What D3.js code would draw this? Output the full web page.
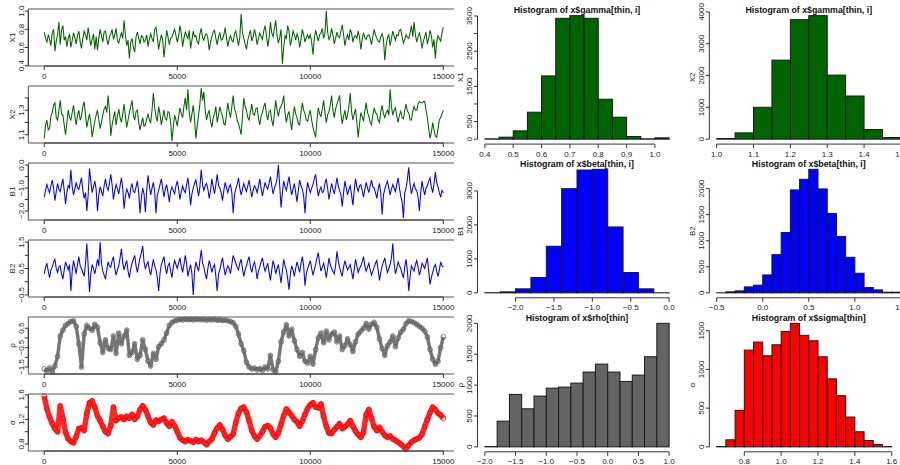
<!DOCTYPE html>
<html>
<head>
<meta charset="utf-8">
<script src="https://cdn.jsdelivr.net/npm/d3@7"></script>
<style>
body { margin: 0; background: #fff; }
text { font-family: "Liberation Sans", Arial, sans-serif; }
</style>
</head>
<body>
<div id="chart"></div>
<script>
// line traces, read every 50 iterations (0 .. 15000)
const x1Trace = [
 0.77,0.70,0.66,0.74,0.69,0.62,0.76,0.80,0.56,0.67,0.74,0.88,0.63,0.79,0.84,0.68,0.72,0.61,0.70,0.75,
 0.60,0.68,0.76,0.71,0.64,0.73,0.78,0.66,0.59,0.70,0.78,0.74,0.68,0.82,0.72,0.62,0.69,0.75,0.58,0.72,
 0.57,0.70,0.80,0.73,0.66,0.77,0.78,0.69,0.63,0.72,0.75,0.80,0.69,0.74,0.81,0.67,0.65,0.71,0.76,0.70,
 0.90,0.74,0.62,0.68,0.48,0.66,0.70,0.60,0.55,0.72,0.77,0.70,0.64,0.73,0.72,0.66,0.68,0.74,0.61,0.69,
 0.75,0.70,0.66,0.80,0.82,0.71,0.58,0.67,0.74,0.69,0.49,0.63,0.79,0.72,0.63,0.70,0.71,0.76,0.80,0.73,
 0.66,0.72,0.84,0.76,0.61,0.70,0.77,0.73,0.70,0.79,0.59,0.68,0.78,0.72,0.73,0.66,0.64,0.75,0.81,0.71,
 0.68,0.74,0.75,0.70,0.57,0.66,0.72,0.77,0.79,0.70,0.63,0.72,0.76,0.68,0.69,0.74,0.82,0.71,0.61,0.69,
 0.73,0.68,0.66,0.75,0.78,0.70,0.62,0.71,0.97,0.76,0.70,0.64,0.58,0.68,0.74,0.79,0.67,0.72,0.80,0.74,
 0.63,0.70,0.76,0.72,0.69,0.78,0.84,0.74,0.61,0.70,0.88,0.76,0.72,0.81,0.90,0.73,0.65,0.71,0.80,0.42,
 0.60,0.73,0.70,0.84,0.78,0.62,0.69,0.78,0.74,0.68,0.75,0.71,0.60,0.69,0.80,0.74,0.66,0.71,0.74,0.70,
 0.74,0.66,0.52,0.70,0.79,0.73,0.67,0.74,0.76,0.81,0.70,0.75,1.00,0.77,0.69,0.72,0.81,0.74,0.64,0.70,
 0.77,0.72,0.71,0.78,0.85,0.74,0.62,0.70,0.74,0.68,0.80,0.76,0.66,0.72,0.73,0.70,0.78,0.71,0.58,0.69,
 0.76,0.71,0.69,0.73,0.74,0.70,0.63,0.72,0.80,0.74,0.70,0.67,0.66,0.72,0.75,0.69,0.46,0.62,0.71,0.74,
 0.62,0.70,0.78,0.73,0.68,0.74,0.73,0.79,0.80,0.72,0.65,0.69,0.74,0.71,0.70,0.76,0.84,0.72,0.88,0.74,
 0.66,0.72,0.76,0.70,0.59,0.67,0.72,0.77,0.64,0.70,0.79,0.73,0.60,0.69,0.48,0.66,0.73,0.70,0.67,0.76,
 0.82];
const x2Trace = [
 1.07,1.18,1.22,1.14,1.15,1.25,1.28,1.34,1.36,1.24,1.22,1.30,1.38,1.27,1.26,1.18,1.10,1.20,1.30,1.24,
 1.22,1.28,1.34,1.25,1.18,1.26,1.30,1.22,1.25,1.33,1.37,1.26,1.16,1.22,1.27,1.20,1.08,1.15,1.21,1.26,
 1.30,1.22,1.15,1.20,1.26,1.31,1.33,1.28,1.42,1.30,1.09,1.18,1.24,1.29,1.18,1.25,1.31,1.24,1.20,1.27,
 1.35,1.25,1.16,1.22,1.28,1.33,1.38,1.26,1.22,1.29,1.30,1.20,1.14,1.19,1.24,1.17,1.18,1.23,1.27,1.22,
 1.20,1.30,1.44,1.32,1.25,1.21,1.33,1.27,1.18,1.24,1.30,1.23,1.22,1.29,1.28,1.20,1.05,1.16,1.26,1.22,
 1.17,1.25,1.32,1.27,1.24,1.33,1.40,1.30,1.47,1.28,1.20,1.27,1.34,1.22,1.07,1.18,1.26,1.35,1.48,1.38,
 1.45,1.30,1.22,1.27,1.30,1.21,1.16,1.24,1.27,1.33,1.20,1.26,1.33,1.28,1.25,1.19,1.18,1.27,1.36,1.29,
 1.24,1.33,1.42,1.31,1.28,1.22,1.19,1.15,1.10,1.25,1.40,1.33,1.30,1.24,1.22,1.29,1.35,1.27,1.26,1.31,
 1.32,1.24,1.18,1.25,1.28,1.33,1.36,1.27,1.22,1.29,1.30,1.22,1.17,1.27,1.38,1.30,1.25,1.31,1.33,1.36,
 1.42,1.28,1.20,1.26,1.29,1.21,1.14,1.25,1.33,1.27,1.24,1.19,1.18,1.28,1.36,1.30,1.27,1.22,1.21,1.26,
 1.30,1.22,1.16,1.12,1.08,1.22,1.32,1.27,1.25,1.31,1.38,1.28,1.20,1.26,1.29,1.34,1.42,1.30,1.24,1.31,
 1.35,1.38,1.42,1.27,1.19,1.25,1.30,1.22,1.26,1.33,1.44,1.29,1.22,1.27,1.31,1.20,1.08,1.19,1.28,1.25,
 1.21,1.29,1.36,1.28,1.25,1.20,1.18,1.26,1.32,1.28,1.27,1.22,1.20,1.29,1.34,1.27,1.24,1.28,1.30,1.26,
 1.47,1.33,1.26,1.30,1.32,1.25,1.20,1.26,1.29,1.24,1.23,1.30,1.35,1.29,1.28,1.22,1.22,1.29,1.33,1.30,
 1.30,1.35,1.37,1.36,1.36,1.37,1.37,1.30,1.24,1.15,1.07,1.12,1.20,1.14,1.09,1.08,1.15,1.22,1.24,1.27,
 1.30];
const b1Trace = [
 -1.40,-1.10,-0.85,-1.05,-1.20,-0.90,-0.65,-1.00,-1.55,-1.15,-0.80,-1.05,-1.15,-0.85,-0.60,-1.10,-1.70,-1.20,-0.90,-1.00,
 -0.20,-0.95,-1.30,-1.05,-0.75,-1.00,-1.05,-0.80,-0.55,-1.10,-1.45,-1.20,-2.00,-1.30,-0.15,-0.70,-1.20,-0.95,-0.70,-1.05,
 -2.00,-1.30,-0.95,-1.15,-1.35,-0.90,-0.60,-0.95,-1.10,-0.80,-0.40,-0.85,-1.50,-1.10,-0.85,-1.05,-1.25,-0.90,-0.55,-1.00,
 -1.90,-1.35,-1.05,-1.20,-1.45,-1.00,-0.80,-1.15,-1.20,-0.95,-0.70,-1.20,-2.10,-1.40,-1.00,-1.25,-2.05,-1.10,-0.45,-0.90,
 -1.30,-1.00,-0.75,-1.15,-2.10,-1.30,-1.10,-0.85,-0.60,-1.00,-1.40,-1.05,-0.85,-1.20,-1.60,-1.15,-0.95,-1.10,-1.25,-0.90,
 -0.70,-1.05,-1.50,-1.15,-0.90,-1.10,-1.20,-0.85,-0.55,-1.05,-1.75,-1.25,-1.00,-0.80,-0.65,-1.00,-1.35,-0.95,-0.20,-0.85,
 -1.10,-0.90,-0.80,-1.05,-1.45,-1.10,-0.60,-0.95,-1.25,-0.85,-0.40,-0.90,-1.00,-1.20,-1.55,-1.10,-0.75,-1.00,-1.20,-0.95,
 -0.85,-1.20,-2.10,-1.30,-1.05,-0.85,-0.55,-1.00,-1.30,-1.05,-0.80,-1.00,-1.15,-0.90,-0.65,-1.05,-1.40,-1.10,-0.90,-1.00,
 -1.20,-0.95,-0.60,-1.00,-1.35,-1.05,-0.75,-0.95,-1.05,-0.80,-0.50,-0.90,-1.25,-1.00,-0.85,-0.60,0.00,-0.90,-1.85,-1.20,
 -0.70,-0.95,-1.10,-0.80,-0.50,-0.95,-1.30,-1.05,-0.80,-1.20,-1.60,-1.10,-0.65,-0.90,-1.05,-1.35,-2.10,-1.20,-0.75,-1.00,
 -1.20,-1.00,-0.85,-0.60,-0.40,-0.95,-1.35,-1.10,-0.95,-1.20,-1.15,-0.80,-0.60,-1.00,-1.50,-1.15,-0.80,-1.05,-1.25,-0.95,
 -0.55,-0.90,-1.10,-1.30,-1.80,-1.20,-0.70,-1.00,-1.30,-1.05,-0.90,-1.30,-1.75,-1.10,-0.60,-0.95,-1.15,-0.90,-0.85,-1.10,
 -1.40,-1.05,-0.75,-1.00,-1.20,-0.90,-0.65,-0.95,-1.00,-1.20,-1.45,-1.05,-0.80,-1.25,-2.15,-1.30,-1.05,-0.85,-0.70,-1.00,
 -1.30,-1.05,-0.85,-1.00,-1.15,-0.85,-0.55,-1.00,-1.35,-1.60,-2.30,-1.20,-1.00,-0.60,-0.10,-0.85,-1.25,-1.00,-0.80,-1.05,
 -1.10,-1.40,-2.00,-1.20,-0.70,-1.05,-1.30,-1.00,-0.90,-0.70,-0.55,-0.95,-1.20,-0.80,-0.30,-0.75,-0.95,-1.20,-1.40,-1.10,
 -1.20];
const b2Trace = [
 0.30,0.55,0.70,0.40,0.15,0.45,0.55,0.75,0.85,0.50,0.35,0.55,0.60,0.30,0.10,0.45,0.75,0.60,0.45,0.65,
 -0.35,0.40,0.80,0.55,0.30,0.65,0.95,0.60,0.50,0.35,0.20,0.70,1.45,0.60,-0.40,0.30,0.65,0.50,0.30,0.55,
 0.85,0.60,1.50,0.70,0.40,0.25,0.10,0.45,0.75,0.60,0.55,0.80,0.95,0.50,0.25,0.45,0.60,0.90,1.25,0.70,
 0.45,0.65,0.80,0.40,0.15,0.50,0.70,0.85,1.00,0.60,0.35,0.65,0.90,1.10,1.35,0.75,0.50,0.65,0.75,0.45,
 0.25,0.55,0.85,0.60,0.45,0.15,-0.35,0.30,0.65,0.80,0.95,0.55,0.30,0.60,0.70,0.40,0.15,0.55,0.80,0.65,
 0.50,0.70,0.90,0.60,0.35,0.65,1.00,0.70,0.20,0.45,0.65,0.30,-0.50,0.40,0.75,0.55,0.40,0.80,1.20,0.70,
 0.55,0.30,0.10,0.50,0.80,0.60,0.35,0.55,0.65,0.20,-0.35,0.30,0.45,0.70,0.90,0.55,0.25,0.45,0.60,0.50,
 0.30,0.65,1.00,0.85,0.70,0.55,0.45,0.70,0.85,0.50,0.20,0.45,0.60,0.80,0.95,0.55,0.35,0.60,0.75,0.50,
 0.10,0.40,0.55,0.75,0.90,0.60,0.40,0.55,0.70,0.35,0.05,0.45,0.80,0.60,0.30,0.50,0.65,0.30,-0.05,0.40,
 0.85,0.60,0.45,0.10,-0.30,0.30,0.60,0.45,0.20,0.50,0.75,0.55,0.35,0.70,0.95,0.60,-0.15,0.30,0.50,0.65,
 0.80,0.50,0.25,0.45,0.65,0.90,1.10,0.70,0.40,0.55,0.70,0.45,0.15,0.50,0.90,0.65,0.50,0.40,0.30,0.60,
 1.15,0.80,0.55,0.35,0.20,0.55,0.80,0.60,0.45,0.55,0.65,0.40,0.10,0.45,0.85,0.60,0.35,0.50,0.60,0.75,
 0.95,0.60,0.40,0.55,0.70,0.45,0.25,0.40,0.55,0.70,0.80,0.45,0.05,0.35,0.60,0.75,0.90,0.60,0.35,0.50,
 0.65,0.90,1.45,0.70,0.30,0.50,0.75,0.60,0.50,0.30,0.15,0.55,0.85,0.40,-0.35,0.20,0.60,0.50,0.40,0.65,
 0.80,0.55,0.25,0.45,0.70,0.60,0.50,0.70,0.90,0.40,-0.10,0.15,0.35,0.55,0.65,0.40,0.20,0.45,0.75,0.60,
 0.55];
// point traces, read every 100 iterations (0 .. 15000)
const rhoTrace = [-1.60,-1.70,-1.55,-1.75,-1.45,-0.95,0.10,0.40,0.65,0.75,
 0.85,0.88,0.60,-0.30,-1.50,0.20,0.65,0.50,0.40,0.70,
 0.55,-0.25,-0.75,-0.10,-0.55,-0.60,0.10,-0.80,0.25,-0.30,
 0.10,0.40,-0.90,-0.75,-0.30,-1.10,-0.90,-0.10,-0.60,-1.20,
 -1.45,-0.80,-1.10,-0.45,-0.30,-0.10,0.25,0.65,0.80,0.88,
 0.92,0.95,0.93,0.97,0.94,0.96,0.93,0.97,0.95,0.94,
 0.96,0.92,0.95,0.93,0.96,0.91,0.94,0.90,0.92,0.88,
 0.85,0.78,0.60,0.20,-0.30,-0.65,-1.25,-1.50,-1.60,-1.55,
 -1.65,-1.58,-1.68,-1.50,-1.60,-0.90,-1.65,-1.75,-1.20,-0.20,
 0.30,0.68,0.10,0.45,-0.15,-0.60,-0.95,-0.75,-1.20,-1.30,
 -0.95,-1.35,-0.60,0.00,0.25,-0.25,0.35,-0.10,0.20,0.30,
 -0.20,0.10,-0.60,-0.40,-0.05,-0.35,-0.70,-0.20,0.20,0.35,
 0.50,0.75,0.45,0.70,0.80,0.55,-0.05,-0.55,-0.90,-0.40,
 -0.20,0.10,-0.45,0.00,0.30,0.45,0.75,0.88,0.85,0.78,
 0.70,0.60,0.50,0.35,0.05,-0.60,-1.10,-1.35,-1.20,-0.50,
 0.05];
const sigmaTrace = [1.58,1.37,1.24,1.13,1.05,1.00,1.42,1.22,0.99,0.88,
 0.84,0.82,0.92,1.05,1.06,1.02,1.30,1.47,1.50,1.40,
 1.26,1.18,1.09,1.00,0.97,1.10,1.40,1.18,1.22,1.24,
 1.20,1.25,1.22,1.28,1.20,1.25,1.36,1.42,1.36,1.25,
 1.15,1.11,1.19,1.17,1.20,1.22,1.14,1.09,1.16,1.10,
 1.00,0.90,0.86,0.84,0.87,0.85,0.83,0.87,0.84,0.86,
 0.83,0.79,0.84,0.88,0.98,1.06,1.11,1.04,0.94,0.88,
 0.92,0.96,1.15,1.30,1.38,1.40,1.32,1.18,1.02,0.93,
 0.88,0.93,1.00,1.08,1.10,1.06,0.96,0.91,0.98,1.12,
 1.26,1.37,1.32,1.26,1.20,1.16,1.09,1.17,1.28,1.38,
 1.44,1.47,1.40,1.39,1.45,1.25,1.09,0.98,0.97,1.03,
 1.08,1.13,1.05,1.08,1.12,1.18,1.09,1.01,0.95,0.91,
 0.99,1.28,1.36,1.22,1.08,1.02,1.07,1.00,0.94,0.91,
 0.93,0.88,0.86,0.83,0.80,0.76,0.72,0.78,0.83,0.86,
 0.88,0.90,0.96,1.08,1.20,1.31,1.40,1.36,1.30,1.27,
 1.22];

// axis ticks, and the tick labels R actually printed
const iterTicks = [0, 5000, 10000, 15000];
const x1TraceTicks = [0.4, 0.6, 0.8, 1.0],        x1TraceLabels = [0.4, 0.6, 0.8, 1.0];
const x2TraceTicks = [1.1, 1.2, 1.3, 1.4],        x2TraceLabels = [1.1, 1.3];
const b1TraceTicks = [-2.0, -1.5, -1.0, -0.5, 0.0], b1TraceLabels = [-2.0, -1.0, 0.0];
const b2TraceTicks = [-0.5, 0.0, 0.5, 1.0, 1.5],  b2TraceLabels = [-0.5, 0.5, 1.5];
const rhoTraceTicks = [-1.5, -1.0, -0.5, 0.0, 0.5], rhoTraceLabels = [-1.5, -0.5, 0.5];
const sigmaTraceTicks = [0.8, 1.0, 1.2, 1.4, 1.6], sigmaTraceLabels = [0.8, 1.2, 1.6];

// histogram counts per bin (first break and bin width given in the table below)
const x1Counts = [10, 57, 236, 766, 1797, 3434, 3510, 3434, 1135, 624, 76, 10, 38];
const x2Counts = [20, 198, 1002, 2485, 3758, 3884, 2015, 1357, 303, 52];
const b1Counts = [5, 29, 118, 451, 1372, 3067, 3616, 3636, 1940, 598, 118, 2];
const b2Counts = [1, 19, 38, 115, 147, 344, 733, 1159, 1975, 2179, 2370, 1994, 1522, 1083, 682, 376, 102, 57, 13, 13];
const rhoCounts = [5, 416, 849, 616, 822, 951, 968, 1032, 1211, 1340, 1211, 1059, 1162, 1459, 2000];
const sigmaCounts = [4, 91, 471, 1249, 1353, 1176, 1318, 1491, 1595, 1440, 1370, 1163, 878, 661, 385, 195, 82, 30, 4, 0];

const x1HistTicks = [0.4, 0.5, 0.6, 0.7, 0.8, 0.9, 1.0];
const x2HistTicks = [1.0, 1.1, 1.2, 1.3, 1.4, 1.5];
const b1HistTicks = [-2.0, -1.5, -1.0, -0.5, 0.0];
const b2HistTicks = [-0.5, 0.0, 0.5, 1.0, 1.5];
const rhoHistTicks = [-2.0, -1.5, -1.0, -0.5, 0.0, 0.5, 1.0];
const sigmaHistTicks = [0.8, 1.0, 1.2, 1.4, 1.6];
const x1CountTicks = [0, 500, 1000, 1500, 2000, 2500, 3000, 3500], x1CountLabels = [0, 500, 1500, 2500, 3500];
const x2CountTicks = [0, 1000, 2000, 3000, 4000],    x2CountLabels = [0, 1000, 2000, 3000, 4000];
const b1CountTicks = [0, 1000, 2000, 3000],          b1CountLabels = [0, 1000, 2000, 3000];
const b2CountTicks = [0, 500, 1000, 1500, 2000],     b2CountLabels = [0, 500, 1000, 1500, 2000];
const rhoCountTicks = [0, 500, 1000, 1500, 2000],    rhoCountLabels = [0, 500, 1000, 1500, 2000];
const sigmaCountTicks = [0, 500, 1000, 1500],        sigmaCountLabels = [0, 500, 1000, 1500];

const width = 900, height = 465;
const fmt1 = d3.format(".1f");

const svg = d3.select("#chart").append("svg")
    .attr("width", width)
    .attr("height", height);
svg.append("rect").attr("width", width).attr("height", height).attr("fill", "#fff");

function yAxisR(g, y, ticks, labels, axisX, fmt, labelGap) {
    g.append("line")
        .attr("x1", axisX).attr("x2", axisX)
        .attr("y1", y(ticks[0])).attr("y2", y(ticks[ticks.length - 1]))
        .attr("stroke", "#333");
    g.selectAll(".yt").data(ticks).enter().append("line")
        .attr("x1", axisX).attr("x2", axisX - 3.5)
        .attr("y1", d => y(d)).attr("y2", d => y(d))
        .attr("stroke", "#333");
    g.selectAll(".yl").data(labels).enter().append("text")
        .attr("transform", d => `translate(${axisX - labelGap},${y(d)}) rotate(-90)`)
        .attr("text-anchor", "middle")
        .attr("font-size", 8)
        .attr("fill", "#222")
        .text(fmt);
}

function xAxisR(g, x, ticks, axisY, fmt) {
    g.append("line")
        .attr("x1", x(ticks[0])).attr("x2", x(ticks[ticks.length - 1]))
        .attr("y1", axisY).attr("y2", axisY)
        .attr("stroke", "#333");
    g.selectAll(".xt").data(ticks).enter().append("line")
        .attr("x1", d => x(d)).attr("x2", d => x(d))
        .attr("y1", axisY).attr("y2", axisY + 4)
        .attr("stroke", "#333");
    g.selectAll(".xl").data(ticks).enter().append("text")
        .attr("x", d => x(d))
        .attr("y", axisY + 12.5)
        .attr("text-anchor", "middle")
        .attr("font-size", 8)
        .attr("fill", "#222")
        .text(fmt);
}

// ---- trace plots (left column)
const traces = [
    { label: "X1", values: x1Trace, step: 50, ticks: x1TraceTicks, labels: x1TraceLabels, color: "#006400", kind: "line" },
    { label: "X2", values: x2Trace, step: 50, ticks: x2TraceTicks, labels: x2TraceLabels, color: "#006400", kind: "line" },
    { label: "B1", values: b1Trace, step: 50, ticks: b1TraceTicks, labels: b1TraceLabels, color: "#0000ff", kind: "line" },
    { label: "B2", values: b2Trace, step: 50, ticks: b2TraceTicks, labels: b2TraceLabels, color: "#0000ff", kind: "line" },
    { label: "\u03c1", values: rhoTrace, step: 100, ticks: rhoTraceTicks, labels: rhoTraceLabels, color: "#5f5f5f", kind: "points", band: 3.5 },
    { label: "\u03c3", values: sigmaTrace, step: 100, ticks: sigmaTraceTicks, labels: sigmaTraceLabels, color: "#ff0000", kind: "points", band: 5.5 }
];

const traceLeft = 28.3, traceRight = 459.3, traceCut = 454;
traces.forEach(function(p, i) {
    const top = 9 + i * 77, bottom = top + 57;
    const g = svg.append("g");
    const iters = p.values.map((v, k) => k * p.step);
    const ext = d3.extent(iters), padX = (ext[1] - ext[0]) * 0.04;
    const x = d3.scaleLinear().domain([ext[0] - padX, ext[1] + padX]).range([traceLeft, traceRight]);
    const vext = d3.extent(p.values), padY = (vext[1] - vext[0]) * 0.04;
    const y = d3.scaleLinear().domain([vext[0] - padY, vext[1] + padY]).range([bottom, top]);

    const pts = p.values.map((v, k) => [iters[k], v]);
    const line = d3.line().x(d => x(d[0])).y(d => y(d[1]));

    if (p.kind === "line") {
        g.append("path").datum(pts)
            .attr("d", line)
            .attr("fill", "none")
            .attr("stroke", p.color)
            .attr("stroke-width", 1.05);
    } else {
        g.append("path").datum(pts)
            .attr("d", line)
            .attr("fill", "none")
            .attr("stroke", p.color)
            .attr("stroke-width", p.band)
            .attr("stroke-linejoin", "round")
            .attr("opacity", 0.85);
        g.selectAll("circle").data(pts).enter().append("circle")
            .attr("cx", d => x(d[0]))
            .attr("cy", d => y(d[1]))
            .attr("r", 2.4)
            .attr("fill", "none")
            .attr("stroke", p.color)
            .attr("stroke-width", 0.8);
    }

    // box (its right side is hidden under the next column)
    g.append("path")
        .attr("d", `M${traceCut},${top}H${traceLeft}V${bottom}H${traceCut}`)
        .attr("fill", "none")
        .attr("stroke", "#555");

    xAxisR(g, x, iterTicks, bottom, d => d);
    yAxisR(g, y, p.ticks, p.labels, traceLeft, fmt1, 4.5);

    g.append("text")
        .attr("transform", `translate(${traceLeft - 13.5},${(top + bottom) / 2}) rotate(-90)`)
        .attr("text-anchor", "middle")
        .attr("font-size", 8)
        .attr("fill", "#222")
        .text(p.label);
});

// ---- histograms (two right columns)
const hists = [
    { title: "Histogram of x$gamma[thin, i]", label: "X1", start: 0.40, bin: 0.05, counts: x1Counts, xTicks: x1HistTicks, yTicks: x1CountTicks, yLabels: x1CountLabels, fill: "#006400", col: 0, row: 0 },
    { title: "Histogram of x$gamma[thin, i]", label: "X2", start: 1.00, bin: 0.05, counts: x2Counts, xTicks: x2HistTicks, yTicks: x2CountTicks, yLabels: x2CountLabels, fill: "#006400", col: 1, row: 0 },
    { title: "Histogram of x$beta[thin, i]", label: "B1", start: -2.4, bin: 0.2, counts: b1Counts, xTicks: b1HistTicks, yTicks: b1CountTicks, yLabels: b1CountLabels, fill: "#0000ff", col: 0, row: 1 },
    { title: "Histogram of x$beta[thin, i]", label: "B2", start: -0.5, bin: 0.1, counts: b2Counts, xTicks: b2HistTicks, yTicks: b2CountTicks, yLabels: b2CountLabels, fill: "#0000ff", col: 1, row: 1 },
    { title: "Histogram of x$rho[thin]", label: "\u03c1", start: -2.0, bin: 0.2, counts: rhoCounts, xTicks: rhoHistTicks, yTicks: rhoCountTicks, yLabels: rhoCountLabels, fill: "#646464", col: 0, row: 2 },
    { title: "Histogram of x$sigma[thin]", label: "\u03c3", start: 0.65, bin: 0.05, counts: sigmaCounts, xTicks: sigmaHistTicks, yTicks: sigmaCountTicks, yLabels: sigmaCountLabels, fill: "#ff0000", col: 1, row: 2 }
];

const colLeft = [477.5, 709.3], rowTop = [10.7, 164.4, 318.4];
const histW = 199, histH = 133.4;

hists.forEach(function(h) {
    const left = colLeft[h.col], top = rowTop[h.row];
    const right = left + histW, bottom = top + histH;
    const g = svg.append("g");
    const bins = h.counts.map((c, k) => ({ x0: h.start + k * h.bin, x1: h.start + (k + 1) * h.bin, n: c }));
    const b0 = bins[0].x0, b1 = bins[bins.length - 1].x1, padX = (b1 - b0) * 0.04;
    const x = d3.scaleLinear().domain([b0 - padX, b1 + padX]).range([left, right]);
    const maxN = d3.max(h.counts);
    const y = d3.scaleLinear().domain([-0.04 * maxN, 1.04 * maxN]).range([bottom, top]);

    g.selectAll("rect").data(bins).enter().append("rect")
        .attr("x", d => x(d.x0))
        .attr("y", d => y(d.n))
        .attr("width", d => x(d.x1) - x(d.x0))
        .attr("height", d => y(0) - y(d.n))
        .attr("fill", h.fill)
        .attr("stroke", "#1a1a1a")
        .attr("stroke-width", 1);

    xAxisR(g, x, h.xTicks, bottom, fmt1);
    yAxisR(g, y, h.yTicks, h.yLabels, left, d => d, 5.2);

    g.append("text")
        .attr("x", (left + right) / 2)
        .attr("y", top + 2.5)
        .attr("text-anchor", "middle")
        .attr("font-size", 8.8)
        .attr("font-weight", "bold")
        .attr("fill", "#111")
        .text(h.title);

    g.append("text")
        .attr("transform", `translate(${left - 14.5},${(top + bottom) / 2}) rotate(-90)`)
        .attr("text-anchor", "middle")
        .attr("font-size", 8)
        .attr("fill", "#222")
        .text(h.label);
});
</script>
</body>
</html>
